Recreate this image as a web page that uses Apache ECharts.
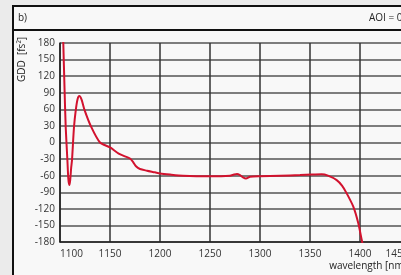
<!DOCTYPE html>
<html><head><meta charset="utf-8">
<script src="https://cdn.jsdelivr.net/npm/echarts@6/dist/echarts.min.js"></script>
<style>html,body{margin:0;padding:0;background:#ebebeb;}#c{width:401px;height:275px;}</style>
</head><body><div id="c"></div>
<script>
const wavelength = [1102.5,1103.3,1104.5,1105.7,1107.4,1108.3,1109.3,1110.2,1111.2,1112,1114,1115.8,1117.5,1119.3,1121.5,1124.5,1131,1140,1150,1158.7,1165,1170,1173,1176,1180,1187,1195,1200,1210,1223,1250,1270,1274,1277,1280,1283,1286,1290,1300,1320,1340,1352,1361.7,1368,1376.7,1382,1386.7,1393.3,1398.3,1401.7,1404];
const gdd = [240,180,100,28,-32,-65,-77,-68,-45,-32,28,59,78,84,78,59,29,0,-9,-20,-25,-29,-35,-43,-48,-51,-54,-56,-58,-60,-61,-60,-58,-57,-59,-63,-65,-62,-61,-60,-59,-58,-57.5,-60,-68,-78,-92,-116,-146,-176,-195];
const xTicks = [1100,1150,1200,1250,1300,1350,1400,1450];
const yTicks = [-180,-150,-120,-90,-60,-30,0,30,60,90,120,150,180];
const panelLabel = 'b)';
const aoiLabel = 'AOI = 0°';
const xName = 'wavelength [nm]';
const yName = 'GDD  [fs²]';

const chart = echarts.init(document.getElementById('c'), null, {renderer:'canvas'});
const font = '"Open Sans", "Liberation Sans", sans-serif';
chart.setOption({
  animation:false,
  backgroundColor:'#ebebeb',
  graphic:[
    {type:'rect', z:-10, shape:{x:13,y:6,width:400,height:280}, style:{fill:'#f8f8f8', stroke:'#111', lineWidth:2}},
    {type:'line', z:-9, shape:{x1:13,y1:30,x2:410,y2:30}, style:{stroke:'#111', lineWidth:2}},
    {type:'text', x:18, y:18, style:{text:panelLabel, font:'10px '+font, fill:'#222', textVerticalAlign:'middle'}},
    {type:'text', x:369, y:18, style:{text:aoiLabel, font:'10px '+font, fill:'#222', textVerticalAlign:'middle'}},
    {type:'text', x:407, y:266, style:{text:xName, font:'10px '+font, fill:'#222', textAlign:'right', textVerticalAlign:'middle'}},
    {type:'text', x:22, y:82, rotation:Math.PI/2, style:{text:yName, font:'10px '+font, fill:'#222', textAlign:'left', textVerticalAlign:'middle'}}
  ],
  grid:{left:60, top:43, width:350, height:199, outerBoundsMode:'none', containLabel:false},
  xAxis:{type:'value', min:1100, max:1450, interval:50,
    axisLine:{onZero:false, lineStyle:{color:'#222', width:1.5}},
    axisTick:{show:false},
    axisLabel:{color:'#333', fontSize:10, fontFamily:font, margin:7, alignMinLabel:'left', alignMaxLabel:'center',
      formatter:v=>xTicks.includes(v)?(v===1450?'{m|'+v+'}':String(v)):'',
      rich:{m:{color:'#333', fontSize:10, fontFamily:font, padding:[0,26,0,0]}}},
    splitLine:{show:true, lineStyle:{color:'#333', width:1.5}}},
  yAxis:{type:'value', min:-180, max:180, interval:30,
    axisLine:{show:true, onZero:false, lineStyle:{color:'#222', width:1.5}},
    axisTick:{show:false},
    axisLabel:{color:'#333', fontSize:10, fontFamily:font, margin:5,
      formatter:v=>yTicks.includes(v)?String(v):''},
    splitLine:{show:true, lineStyle:{color:'#555', width:1.5}}},
  series:[{type:'line', data:wavelength.map((w,i)=>[w,gdd[i]]), showSymbol:false, smooth:0.25, clip:true,
    lineStyle:{color:'#d2122e', width:2}}]
});
</script></body></html>
